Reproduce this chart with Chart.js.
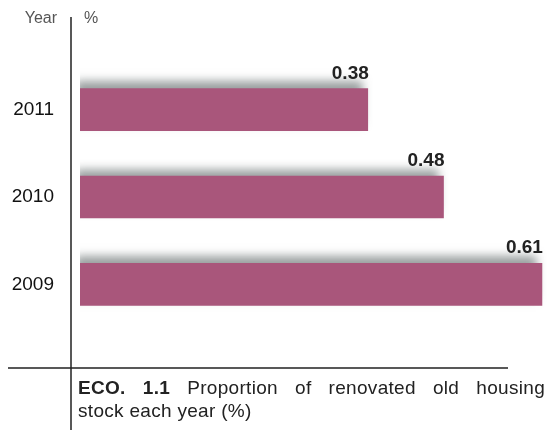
<!DOCTYPE html>
<html>
<head>
<meta charset="utf-8">
<script src="https://cdn.jsdelivr.net/npm/chart.js@4"></script>
<style>
    body { margin: 0; background: #fff; }
    #wrap { position: relative; width: 548px; height: 430px; }
    #caption {
        position: absolute; left: 78px; top: 376px; width: 467px;
        font: 19px "Liberation Sans", Arial, sans-serif; line-height: 23px;
        color: #222; letter-spacing: 0.3px;
    }
    #caption .l1 { text-align: justify; text-align-last: justify; }
</style>
</head>
<body>
<div id="wrap">
    <canvas id="chart" width="548" height="430"></canvas>
    <div id="caption">
        <div class="l1"><b>ECO. 1.1</b> Proportion of renovated old housing</div>
        <div>stock each year (%)</div>
    </div>
</div>
<script>
const years = ['2011', '2010', '2009'];
const shares = [0.38, 0.48, 0.61];
const barColor = '#a9567b';

const shadowPlugin = {
    id: 'shadow',
    beforeDatasetDraw: (chart) => {
        const ctx = chart.ctx;
        ctx.save();
        ctx.shadowColor = 'rgba(70,80,80,0.55)';
        ctx.shadowBlur = 9;
        ctx.shadowOffsetX = -5;
        ctx.shadowOffsetY = -7;
    },
    afterDatasetDraw: (chart) => {
        chart.ctx.restore();
    }
}

const extras = {
    id: 'extras',
    afterDatasetsDraw: (chart) => {
        const ctx = chart.ctx;
        const area = chart.chartArea;
        ctx.save();
        // value labels above bar ends
        ctx.font = 'bold 19px "Liberation Sans", Arial, sans-serif';
        ctx.fillStyle = '#222';
        ctx.textAlign = 'right';
        ctx.textBaseline = 'alphabetic';
        chart.getDatasetMeta(0).data.forEach((bar, i) => {
            ctx.fillText(shares[i].toFixed(2), bar.x + 1, bar.y - bar.height / 2 - 10);
        });
        // axis lines
        ctx.strokeStyle = '#222';
        ctx.lineWidth = 1.5;
        ctx.beginPath();
        ctx.moveTo(area.left - 9, 17);
        ctx.lineTo(area.left - 9, 430);
        ctx.moveTo(8, area.bottom + 40);
        ctx.lineTo(508, area.bottom + 40);
        ctx.stroke();
        // headers
        ctx.font = '16px "Liberation Sans", Arial, sans-serif';
        ctx.fillStyle = '#555';
        ctx.textBaseline = 'middle';
        ctx.textAlign = 'right';
        ctx.fillText('Year', 57, 19);
        ctx.textAlign = 'left';
        ctx.fillText('%', 84, 19);
        ctx.restore();
    }
}

new Chart(document.getElementById('chart'), {
    type: 'bar',
    data: {
        labels: years,
        datasets: [{
            data: shares,
            backgroundColor: barColor,
            borderWidth: 0,
            barThickness: 42
        }]
    },
    options: {
        indexAxis: 'y',
        responsive: false,
        animation: false,
        layout: { padding: { top: 66, bottom: 102, left: 0, right: 0 } },
        plugins: { legend: { display: false }, tooltip: { enabled: false } },
        scales: {
            x: { display: false, min: 0, max: 0.618 },
            y: {
                grid: { display: false },
                border: { display: false },
                afterFit: (scale) => { scale.width = 80; },
                ticks: {
                    padding: 18,
                    color: '#111',
                    font: { size: 19, family: '"Liberation Sans", Arial, sans-serif' }
                }
            }
        }
    },
    plugins: [shadowPlugin, extras]
});
</script>
</body>
</html>
